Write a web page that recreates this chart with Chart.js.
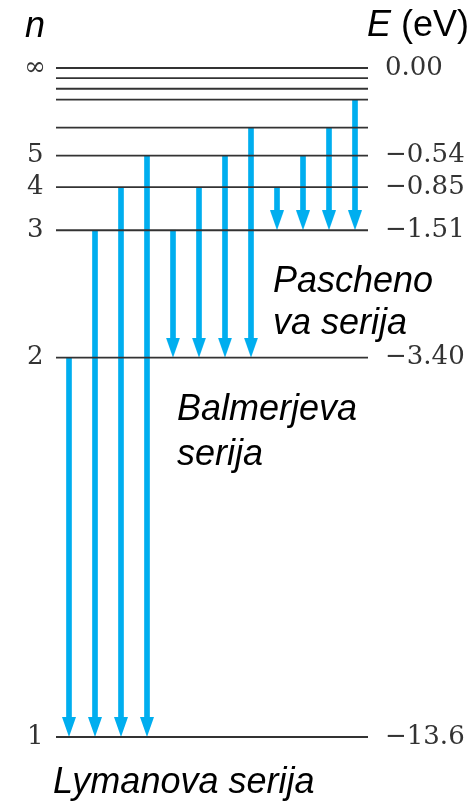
<!DOCTYPE html>
<html>
<head>
<meta charset="utf-8">
<script src="https://cdn.jsdelivr.net/npm/chart.js@4/dist/chart.umd.min.js"></script>
<style>
  html, body { margin: 0; padding: 0; background: #ffffff; }
  canvas { display: block; }
</style>
</head>
<body>
<canvas id="c" width="472" height="807"></canvas>
<script>
// ---------------- data ----------------
const levelN      = ['1', '2', '3', '4', '5', '6', '7', '8', '9', '∞'];
const levelEnergy = [-13.6, -3.40, -1.51, -0.85, -0.54, -0.38, -0.28, -0.21, -0.17, 0.00];

const nTickLabels   = ['1', '2', '3', '4', '5', '∞'];
const nTickEnergies = [-13.6, -3.40, -1.51, -0.85, -0.54, 0.00];

const energyTickLabels = ['−13.6', '−3.40', '−1.51', '−0.85', '−0.54', '0.00'];
const energyTickValues = [-13.6, -3.40, -1.51, -0.85, -0.54, 0.00];

const seriesNames = ['Lymanova serija', 'Balmerjeva serija', 'Paschenova serija'];
const lymanFrom   = ['2', '3', '4', '5'];
const balmerFrom  = ['3', '4', '5', '6'];
const paschenFrom = ['4', '5', '6', '7'];
const seriesTo    = ['1', '2', '3'];

// ---------------- helpers ----------------
const E = n => levelEnergy[levelN.indexOf(n)];

// schematic (not-to-scale) vertical layout of the levels, as a fraction of the axis height
const schematicFractions = [0, 0.567, 0.7575, 0.8218, 0.8689, 0.9108, 0.9526, 0.969, 0.9848, 1];

function interp(v, xs, ys) {
  if (v <= xs[0]) return ys[0] + (v - xs[0]) * (ys[1] - ys[0]) / (xs[1] - xs[0]);
  for (let i = 1; i < xs.length; i++) {
    if (v <= xs[i]) return ys[i - 1] + (v - xs[i - 1]) * (ys[i] - ys[i - 1]) / (xs[i] - xs[i - 1]);
  }
  const k = xs.length - 1;
  return ys[k] + (v - xs[k]) * (ys[k] - ys[k - 1]) / (xs[k] - xs[k - 1]);
}

class SchematicScale extends Chart.LinearScale {
  getPixelForValue(value) {
    return this.getPixelForDecimal(interp(value, levelEnergy, this.options.levelFractions));
  }
  getValueForPixel(pixel) {
    return interp(this.getDecimalForPixel(pixel), this.options.levelFractions, levelEnergy);
  }
}
SchematicScale.id = 'schematic';
SchematicScale.defaults = {};
Chart.register(SchematicScale);

// arrowhead glyph: tip at the centre of the canvas, so the tip sits on the lower level
const BLUE = '#00AEEF';
function makeHead(w, h) {
  const c = document.createElement('canvas');
  c.width = w; c.height = 2 * h;
  const g = c.getContext('2d');
  g.fillStyle = BLUE;
  g.beginPath(); g.moveTo(0, 0); g.lineTo(w, 0); g.lineTo(w / 2, h); g.closePath(); g.fill();
  return c;
}
const head = makeHead(14, 20);

// ---------------- datasets ----------------
const datasets = [];

levelN.forEach((n, i) => {
  datasets.push({
    type: 'line',
    label: 'n = ' + n,
    data: [{ x: 0.5, y: levelEnergy[i] }, { x: 12.5, y: levelEnergy[i] }],
    borderColor: '#333333',
    borderWidth: 1.8,
    pointRadius: 0,
    yAxisID: 'yE',
    clip: false,
    order: 0
  });
});

let slot = 0;
[lymanFrom, balmerFrom, paschenFrom].forEach((fromList, s) => {
  const lower = E(seriesTo[s]);
  const shafts = [], heads = [];
  fromList.forEach(n => {
    slot += 1;
    shafts.push({ x: slot, y: [lower, E(n)] });
    heads.push({ x: slot, y: lower });
  });
  datasets.push({
    type: 'bar', label: seriesNames[s], data: shafts,
    backgroundColor: BLUE, borderWidth: 0,
    barThickness: 5, maxBarThickness: 5, grouped: false,
    yAxisID: 'yE', order: 2, isShaft: true
  });
  datasets.push({
    type: 'scatter', label: seriesNames[s] + ' (arrowheads)', data: heads,
    pointStyle: head, pointRadius: 10, showLine: false,
    yAxisID: 'yE', order: 1, clip: false
  });
});

// ---------------- plugins ----------------
// shorten each shaft at its lower end so the arrowhead forms the tip
const trimShafts = {
  id: 'trimShafts',
  afterDatasetUpdate(chart, args) {
    if (chart.data.datasets[args.index].isShaft) {
      args.meta.data.forEach(el => {
        if (el.base > el.y) el.base -= 12; else el.y -= 12;
      });
    }
  }
};

const labels = {
  id: 'labels',
  afterDraw(chart) {
    const ctx = chart.ctx;
    ctx.save();
    ctx.fillStyle = '#000000';
    ctx.textAlign = 'left';
    ctx.textBaseline = 'alphabetic';
    const sansI = 'italic 36px "Liberation Sans", Arial, sans-serif';
    const sans = '36px "Liberation Sans", Arial, sans-serif';
    ctx.font = sansI;
    ctx.fillText('n', 25, 37);
    ctx.fillText('E', 367, 36);
    const wE = ctx.measureText('E').width;
    ctx.font = sans;
    ctx.fillText(' (eV)', 367 + wE, 36);

    ctx.font = sansI;
    ctx.fillText('Pascheno', 273, 292);
    ctx.fillText('va serija', 273, 334);
    ctx.fillText('Balmerjeva', 177, 420);
    ctx.fillText('serija', 177, 465);
    ctx.fillText('Lymanova serija', 53, 793);
    ctx.restore();
  }
};

// ---------------- chart ----------------
const serifFont = { family: '"DejaVu Serif", "Liberation Serif", serif', size: 26 };

new Chart(document.getElementById('c'), {
  type: 'line',
  data: { datasets },
  options: {
    responsive: false,
    animation: false,
    devicePixelRatio: 1,
    events: [],
    layout: { padding: { top: 68, bottom: 70, left: 0, right: 0 } },
    plugins: { legend: { display: false }, tooltip: { enabled: false }, title: { display: false } },
    scales: {
      x: { type: 'linear', min: 0.5, max: 12.5, display: false, offset: false },
      yn: {
        type: 'schematic', position: 'left', min: -13.6, max: 0,
        levelFractions: schematicFractions,
        grid: { display: false, drawTicks: false }, border: { display: false },
        afterBuildTicks: s => { s.ticks = nTickEnergies.map(v => ({ value: v })); },
        afterFit: s => { s.width = 56; },
        ticks: {
          autoSkip: false, crossAlign: 'center', padding: 10,
          color: '#333333', font: serifFont,
          callback: (v, i) => nTickLabels[i]
        }
      },
      yE: {
        type: 'schematic', position: 'right', min: -13.6, max: 0,
        levelFractions: schematicFractions,
        grid: { display: false, drawTicks: false }, border: { display: false },
        afterBuildTicks: s => { s.ticks = energyTickValues.map(v => ({ value: v })); },
        afterFit: s => { s.width = 104; },
        ticks: {
          autoSkip: false, crossAlign: 'near', padding: 17,
          color: '#333333', font: serifFont,
          callback: (v, i) => energyTickLabels[i]
        }
      }
    }
  },
  plugins: [trimShafts, labels]
});
</script>
</body>
</html>
